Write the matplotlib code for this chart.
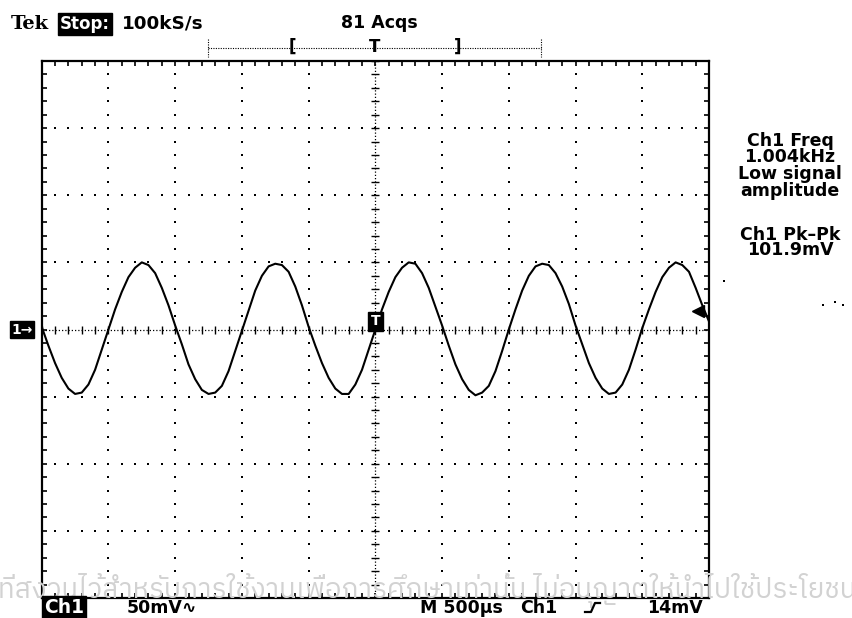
import numpy as np
import matplotlib
matplotlib.use('Agg')
from matplotlib import pyplot as plt
from matplotlib.lines import Line2D
from matplotlib import font_manager

# sample times (ms) and trace values (mV) at 50 us steps
time_ms = [round(-2.5 + 0.05 * k, 2) for k in range(101)]
trace_mv = [2, -12, -25, -36, -44, -48, -47, -41, -30, -15, 0, 15, 28, 39, 46, 50, 48, 42, 31, 18,
            3, -11, -26, -37, -45, -48, -47, -42, -31, -16, -1, 14, 29, 40, 47, 49, 48, 43, 32, 18,
            2, -12, -25, -36, -44, -48, -48, -41, -30, -15, 0, 15, 28, 39, 46, 50, 49, 42, 31, 17,
            3, -12, -26, -37, -45, -49, -47, -42, -31, -16, 0, 15, 29, 40, 47, 49, 48, 42, 32, 19,
            3, -11, -25, -36, -44, -48, -47, -41, -30, -15, 1, 15, 28, 39, 46, 50, 48, 43, 31, 18,
            6]

time_per_div = 0.5    # ms  (M 500us)
volts_per_div = 50    # mV  (Ch1 50mV)
trigger_level = 14    # mV
trigger_time = 0.0

header_left = 'Tek'
header_stop = 'Stop:'
header_rate = '100kS/s'
header_acqs = '81 Acqs'
meas_lines = ['Ch1 Freq', '1.004kHz', 'Low signal', 'amplitude']
meas_lines2 = ['Ch1 Pk\u2013Pk', '101.9mV']
footer = ['Ch1', '50mV\u223f', 'M 500\u00b5s', 'Ch1', '14mV']
watermark = 'ที่สงวนไว้สำหรับการใช้งานเพื่อการศึกษาเท่านั้น ไม่อนุญาตให้นำไปใช้ประโยชน์'

W, H = 852, 618


def fx(x):
    return x / W


def fy(y):
    return 1 - y / H


fig = plt.figure(figsize=(W / 100, H / 100), dpi=100)
fig.patch.set_facecolor('white')

# faint watermark behind the screen, only if a Thai-capable font is there
thai_fonts = [f.name for f in font_manager.fontManager.ttflist if 'Thai' in f.name]
if thai_fonts:
    fig.text(fx(-2), fy(591), watermark, fontsize=20, color='#d2d2d2',
             family=thai_fonts[0], va='center', ha='left', zorder=0)

ax = fig.add_axes([fx(41.7), fy(598), (709 - 41.7) / W, (598 - 61) / H])
ax.set_facecolor('none')
ax.set_xlim(-5 * time_per_div, 5 * time_per_div)
ax.set_ylim(-4 * volts_per_div, 4 * volts_per_div)

major_t = np.arange(-5, 6) * time_per_div
minor_t = np.arange(-25, 26) * time_per_div / 5
major_v = np.arange(-4, 5) * volts_per_div
minor_v = np.arange(-20, 21) * volts_per_div / 5

dot = dict(ls='none', marker='s', ms=1.8, mew=0, color='black', zorder=1)
for t in major_t[1:-1]:
    if t != 0:
        ax.plot(np.full(len(minor_v), t), minor_v, **dot)
for v in major_v[1:-1]:
    if v != 0:
        ax.plot(minor_t, np.full(len(minor_t), v), **dot)

# centre graticule lines with cross ticks
ax.axhline(0, color='black', lw=0.9, ls=(0, (1, 1.6)), zorder=1)
ax.axvline(0, color='black', lw=0.9, ls=(0, (1, 1.6)), zorder=1)
ax.plot(minor_t, np.zeros(len(minor_t)), ls='none', marker='|', ms=6, mew=1, color='black', zorder=1)
ax.plot(np.zeros(len(minor_v)), minor_v, ls='none', marker='_', ms=6, mew=1, color='black', zorder=1)

# border ticks
ax.set_xticks(major_t)
ax.set_yticks(major_v)
ax.set_xticks(minor_t, minor=True)
ax.set_yticks(minor_v, minor=True)
ax.tick_params(which='both', direction='in', length=3.5, width=1.2, top=True, right=True,
               labelbottom=False, labelleft=False)
for s in ax.spines.values():
    s.set_linewidth(1.6)

# the trace
ax.plot(time_ms, trace_mv, color='black', lw=1.5, zorder=3)

# trigger marker T and trigger level arrow
ax.text(trigger_time, 6, 'T', color='white', fontsize=10, fontweight='bold', ha='center', va='center',
        zorder=4, bbox=dict(boxstyle='square,pad=0.2', fc='black', ec='black'))
ax.plot([2.5 - 0.08], [trigger_level], marker='<', ms=8, color='black', clip_on=False, zorder=4)

# channel ground marker
ax.text(-0.014, 0, '1\u2192', transform=ax.get_yaxis_transform(), color='white', fontsize=10,
        fontweight='bold', ha='right', va='center',
        bbox=dict(boxstyle='square,pad=0.1', fc='black', ec='black'))

font = dict(family='DejaVu Sans', fontweight='bold', fontsize=12.5, color='black')

# header
fig.text(fx(11), fy(29), header_left, family='DejaVu Serif', fontweight='bold', fontsize=14, va='baseline')
fig.text(fx(60), fy(29), header_stop, color='white', family='DejaVu Sans', fontweight='bold', fontsize=12,
         va='baseline', bbox=dict(boxstyle='square,pad=0.1', fc='black', ec='black'))
fig.text(fx(122), fy(29), header_rate, va='baseline', family='DejaVu Sans', fontweight='bold', fontsize=13.2)
fig.text(fx(379), fy(28), header_acqs, ha='center', va='baseline', **font)

# record-length bracket
fig.add_artist(Line2D([fx(208), fx(541)], [fy(48), fy(48)], color='black', lw=0.8, ls=(0, (1, 1.2))))
for xx in (208, 541):
    fig.add_artist(Line2D([fx(xx), fx(xx)], [fy(39), fy(57)], color='black', lw=0.8, ls=(0, (1, 1.2))))
for xx, s in ((292, '['), (375, 'T'), (458, ']')):
    fig.text(fx(xx), fy(47), s, ha='center', va='center', family='DejaVu Sans', fontweight='bold',
             fontsize=12, color='black')

# measurement readouts
for y, s in zip((146, 162, 179, 196), meas_lines):
    fig.text(fx(790), fy(y), s, ha='center', va='baseline', **font)
for y, s in zip((240, 255), meas_lines2):
    fig.text(fx(790), fy(y), s, ha='center', va='baseline', **font)

# stray screen dots
for xx, yy in ((724, 281), (823, 305), (835, 302), (843, 305)):
    fig.add_artist(Line2D([fx(xx)], [fy(yy)], marker='s', ms=1.5, mew=0, color='black'))

# footer
fig.text(fx(44), fy(613), footer[0], color='white', va='baseline', family='DejaVu Sans', fontweight='bold',
         fontsize=13.5, bbox=dict(boxstyle='square,pad=0.1', fc='black', ec='black'))
fig.text(fx(127), fy(613), footer[1], va='baseline', **font)
fig.text(fx(420), fy(613), footer[2], va='baseline', **font)
fig.text(fx(520), fy(613), footer[3], va='baseline', **font)
fig.add_artist(Line2D([fx(585), fx(591), fx(595), fx(600)], [fy(612), fy(612), fy(603), fy(603)],
                      color='black', lw=1.6))
fig.text(fx(647), fy(613), footer[4], va='baseline', **font)

fig.savefig('out.png', dpi=100)
